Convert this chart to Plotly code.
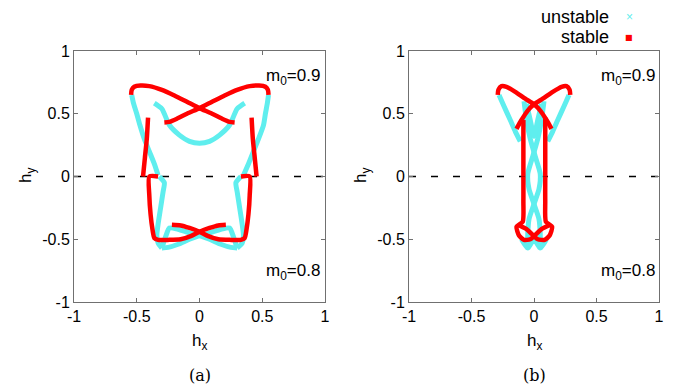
import plotly.graph_objects as go

W, H = 678, 386

# ---------------- data ----------------
# panel (a) stable (red)
a_red_A_x = [-0.545, -0.54, -0.52, -0.47, -0.40, -0.30, -0.20, -0.10, 0.0, 0.10, 0.18, 0.24, 0.28]
a_red_A_y = [0.65, 0.69, 0.715, 0.725, 0.72, 0.69, 0.645, 0.595, 0.545, 0.50, 0.46, 0.435, 0.43]
a_red_B_x = [0.55, 0.545, 0.525, 0.475, 0.40, 0.30, 0.20, 0.10, 0.0, -0.10, -0.18, -0.24, -0.28]
a_red_B_y = [0.65, 0.69, 0.715, 0.725, 0.72, 0.69, 0.645, 0.595, 0.545, 0.50, 0.46, 0.435, 0.43]
a_red_vL_x = [-0.41, -0.42, -0.435, -0.45]
a_red_vL_y = [0.47, 0.30, 0.15, 0.0]
a_red_vR_x = [0.415, 0.425, 0.44, 0.455]
a_red_vR_y = [0.47, 0.30, 0.15, 0.0]
a_red_C_x = [-0.33, -0.40, -0.40, -0.39, -0.375, -0.36, -0.33, -0.25, -0.15, -0.07, 0.0, 0.08, 0.15, 0.21]
a_red_C_y = [0.0, 0.0, -0.15, -0.30, -0.42, -0.49, -0.505, -0.505, -0.50, -0.475, -0.44, -0.41, -0.39, -0.385]
a_red_D_x = [0.33, 0.40, 0.40, 0.39, 0.375, 0.36, 0.33, 0.25, 0.15, 0.07, 0.0, -0.08, -0.15, -0.22]
a_red_D_y = [0.0, 0.0, -0.15, -0.30, -0.42, -0.49, -0.505, -0.505, -0.50, -0.475, -0.44, -0.41, -0.39, -0.385]

# panel (a) unstable (cyan)
a_cy_1_x = [-0.54, -0.525, -0.50, -0.475, -0.44, -0.40, -0.36, -0.33]
a_cy_1_y = [0.65, 0.58, 0.50, 0.41, 0.30, 0.20, 0.10, 0.01]
a_cy_2_x = [0.55, 0.54, 0.525, 0.51, 0.47, 0.43, 0.39, 0.35]
a_cy_2_y = [0.65, 0.58, 0.50, 0.41, 0.30, 0.20, 0.10, 0.01]
a_cy_3_x = [-0.36, -0.30, -0.24, -0.16, -0.08, 0.0, 0.08, 0.16, 0.24, 0.30, 0.36]
a_cy_3_y = [0.585, 0.54, 0.41, 0.33, 0.28, 0.265, 0.28, 0.33, 0.41, 0.54, 0.585]
a_cy_4_x = [-0.32, -0.28, -0.29, -0.31, -0.33, -0.34, -0.33, -0.30]
a_cy_4_y = [0.0, -0.05, -0.12, -0.25, -0.38, -0.47, -0.53, -0.57]
a_cy_5_x = [0.33, 0.29, 0.30, 0.32, 0.34, 0.35, 0.34, 0.30]
a_cy_5_y = [0.0, -0.05, -0.12, -0.25, -0.38, -0.47, -0.53, -0.57]
a_cy_6_x = [-0.30, -0.27, -0.24, -0.17, -0.08, 0.0, 0.08, 0.17, 0.25, 0.30]
a_cy_6_y = [-0.57, -0.48, -0.41, -0.42, -0.45, -0.47, -0.50, -0.54, -0.565, -0.57]
a_cy_7_x = [0.30, 0.27, 0.24, 0.17, 0.08, 0.0, -0.08, -0.17, -0.25, -0.30]
a_cy_7_y = [-0.57, -0.48, -0.41, -0.42, -0.45, -0.47, -0.50, -0.54, -0.565, -0.57]

# panel (b) stable (red)
b_red_A_x = [-0.29, -0.285, -0.26, -0.22, -0.15, -0.07, 0.0, 0.05, 0.10, 0.14]
b_red_A_y = [0.65, 0.69, 0.72, 0.715, 0.675, 0.62, 0.575, 0.525, 0.45, 0.38]
b_red_B_x = [0.29, 0.285, 0.26, 0.22, 0.15, 0.07, 0.0, -0.05, -0.10, -0.14]
b_red_B_y = [0.65, 0.69, 0.72, 0.715, 0.675, 0.62, 0.575, 0.525, 0.45, 0.38]
b_red_vL_x = [-0.085, -0.085, -0.085]
b_red_vL_y = [0.45, 0.20, 0.0]
b_red_vR_x = [0.09, 0.09, 0.09]
b_red_vR_y = [0.47, 0.20, 0.0]
b_red_C_x = [-0.085, -0.085, -0.09, -0.14, -0.12, -0.08, -0.03, 0.0, 0.06, 0.13]
b_red_C_y = [0.0, -0.20, -0.36, -0.40, -0.47, -0.505, -0.50, -0.475, -0.42, -0.385]
b_red_D_x = [0.09, 0.09, 0.095, 0.145, 0.125, 0.085, 0.03, 0.0, -0.06, -0.13]
b_red_D_y = [0.0, -0.20, -0.36, -0.40, -0.47, -0.505, -0.50, -0.475, -0.42, -0.385]

# panel (b) unstable (cyan)
b_cy_1_x = [-0.28, -0.24, -0.19, -0.15, -0.11]
b_cy_1_y = [0.65, 0.56, 0.45, 0.36, 0.28]
b_cy_2_x = [0.28, 0.24, 0.19, 0.15, 0.11]
b_cy_2_y = [0.65, 0.56, 0.45, 0.36, 0.28]
b_cy_3_x = [-0.08, -0.06, -0.03, 0.01, 0.05, 0.04, 0.0, -0.04, -0.05, -0.05]
b_cy_3_y = [0.60, 0.45, 0.30, 0.16, 0.02, -0.10, -0.22, -0.34, -0.46, -0.58]
b_cy_4_x = [0.08, 0.06, 0.03, -0.01, -0.05, -0.04, 0.0, 0.04, 0.05, 0.05]
b_cy_4_y = [0.60, 0.45, 0.30, 0.16, 0.02, -0.10, -0.22, -0.34, -0.46, -0.58]
b_cy_5_x = [-0.06, -0.03, 0.0, 0.03, 0.06]
b_cy_5_y = [0.58, 0.45, 0.32, 0.45, 0.58]
b_cy_6_x = [-0.10, -0.05, 0.0, 0.05, 0.10]
b_cy_6_y = [-0.50, -0.57, -0.50, -0.57, -0.50]

tick_vals = [-1, -0.5, 0, 0.5, 1]
tick_text = ["-1", "-0.5", "0", "0.5", "1"]
legend_labels = ["unstable", "stable"]
m0_labels = ["m<sub>0</sub>=0.9", "m<sub>0</sub>=0.8"]
panel_labels = ["(a)", "(b)"]

RED = "#ff0000"
CYAN = "rgb(95,238,238)"

fig = go.Figure()

def add_curve(x, y, color, width, xa, ya):
    fig.add_trace(go.Scatter(x=x, y=y, mode="lines", xaxis=xa, yaxis=ya,
                             line=dict(color=color, width=width, shape="spline", smoothing=0.6),
                             showlegend=False, hoverinfo="skip"))

# dashed zero lines
for xa, ya in (("x", "y"), ("x2", "y2")):
    fig.add_trace(go.Scatter(x=[-1, 1], y=[0, 0], mode="lines", xaxis=xa, yaxis=ya,
                             line=dict(color="black", width=1.5, dash="7px,15px"),
                             showlegend=False, hoverinfo="skip"))

cyan_a = [(a_cy_1_x, a_cy_1_y), (a_cy_2_x, a_cy_2_y), (a_cy_3_x, a_cy_3_y), (a_cy_4_x, a_cy_4_y),
          (a_cy_5_x, a_cy_5_y), (a_cy_6_x, a_cy_6_y), (a_cy_7_x, a_cy_7_y)]
red_a = [(a_red_A_x, a_red_A_y), (a_red_B_x, a_red_B_y), (a_red_vL_x, a_red_vL_y), (a_red_vR_x, a_red_vR_y),
         (a_red_C_x, a_red_C_y), (a_red_D_x, a_red_D_y)]
cyan_b = [(b_cy_1_x, b_cy_1_y), (b_cy_2_x, b_cy_2_y), (b_cy_3_x, b_cy_3_y), (b_cy_4_x, b_cy_4_y),
          (b_cy_5_x, b_cy_5_y), (b_cy_6_x, b_cy_6_y)]
red_b = [(b_red_A_x, b_red_A_y), (b_red_B_x, b_red_B_y), (b_red_vL_x, b_red_vL_y), (b_red_vR_x, b_red_vR_y),
         (b_red_C_x, b_red_C_y), (b_red_D_x, b_red_D_y)]

for x, y in cyan_a:
    add_curve(x, y, CYAN, 5, "x", "y")
for x, y in cyan_b:
    add_curve(x, y, CYAN, 5, "x2", "y2")
for x, y in red_a:
    add_curve(x, y, RED, 4.5, "x", "y")
for x, y in red_b:
    add_curve(x, y, RED, 4.5, "x2", "y2")

FONT = "Liberation Sans, Arial, sans-serif"
axis_common = dict(range=[-1, 1], tickvals=tick_vals, ticktext=tick_text, ticks="inside", ticklen=4,
                   tickcolor="#707070", showline=True, linecolor="#707070", linewidth=1, mirror="ticks",
                   showgrid=False, zeroline=False, tickfont=dict(family=FONT, size=16, color="black"),
                   fixedrange=True, automargin=False)

y0, y1 = 1 - 302 / H, 1 - 51 / H
fig.update_layout(
    width=W, height=H, autosize=False, margin=dict(l=0, r=0, t=0, b=0, pad=0, autoexpand=False),
    paper_bgcolor="white", plot_bgcolor="white", showlegend=False,
    xaxis=dict(domain=[74 / W, 325 / W], anchor="y", **axis_common),
    yaxis=dict(domain=[y0, y1], anchor="x", **axis_common),
    xaxis2=dict(domain=[409 / W, 659 / W], anchor="y2", **axis_common),
    yaxis2=dict(domain=[y0, y1], anchor="x2", **axis_common),
)

ann = []
def px(xp, yp):
    return xp / W, 1 - yp / H

def add_text(xp, yp, text, size, family=FONT, xanchor="center", color="black", angle=0):
    x_, y_ = px(xp, yp)
    ann.append(dict(x=x_, y=y_, xref="paper", yref="paper", text=text, showarrow=False,
                    xanchor=xanchor, yanchor="middle", textangle=angle,
                    font=dict(family=family, size=size, color=color)))

# axis titles and panel captions
for xc, lab in ((199.5, panel_labels[0]), (534, panel_labels[1])):
    add_text(xc, 342, "h<sub>x</sub>", 17)
    add_text(xc, 375, lab, 16, family="DejaVu Serif, serif")
for xc in (27, 362):
    add_text(xc, 176, "h<sub>y</sub>", 17, angle=-90)
# m0 labels
for xr in (322, 657):
    add_text(xr, 77, m0_labels[0], 17, xanchor="right")
    add_text(xr, 272, m0_labels[1], 17, xanchor="right")
# legend
add_text(611, 17, legend_labels[0], 18, xanchor="right")
add_text(611, 37, legend_labels[1], 18, xanchor="right")
add_text(629, 17, "×", 12, color=CYAN)
add_text(629, 37, "■", 8, family="DejaVu Sans", color=RED)
fig.update_layout(annotations=ann)

fig.write_html("out.html", config={"displayModeBar": False, "staticPlot": True},
               post_script="document.body.style.margin='0';document.body.style.overflow='hidden';")
